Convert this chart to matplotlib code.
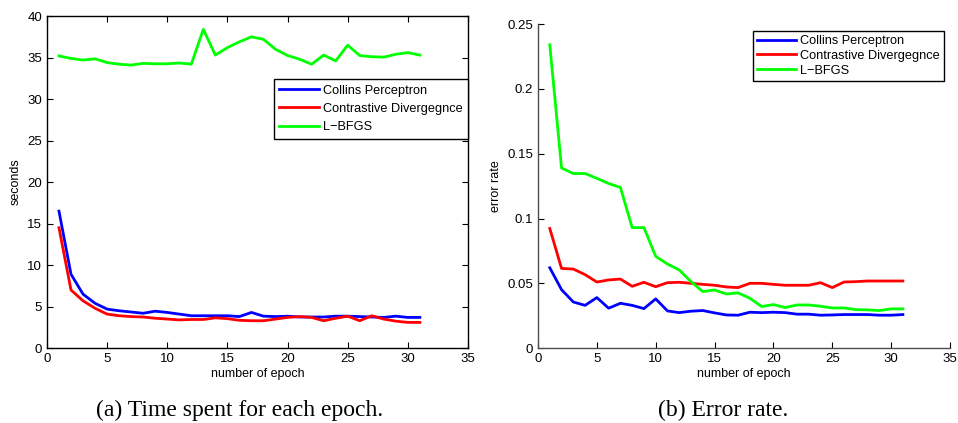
"""
Training time and error rate per epoch for three CRF training methods.
"""
import matplotlib
matplotlib.use("Agg")
import matplotlib.pyplot as plt
from matplotlib.ticker import FuncFormatter

plt.rcParams["font.family"] = ["Liberation Sans", "DejaVu Sans"]

epochs = list(range(1, 32))
labels = ["Collins Perceptron", "Contrastive Divergegnce", "L\u2212BFGS"]
colors = ["#0000ff", "#ff0000", "#00ff00"]

# (a) seconds per epoch
time_collins = [16.5, 8.9, 6.5, 5.4, 4.7, 4.5, 4.35, 4.2, 4.45, 4.3,
                4.1, 3.9, 3.9, 3.9, 3.9, 3.8, 4.3, 3.85, 3.8, 3.85,
                3.75, 3.75, 3.75, 3.85, 3.85, 3.8, 3.75, 3.7, 3.85, 3.7, 3.7]
time_cd = [14.5, 7.0, 5.7, 4.8, 4.1, 3.9, 3.8, 3.75, 3.6, 3.5,
           3.4, 3.45, 3.45, 3.65, 3.55, 3.35, 3.3, 3.3, 3.5, 3.7,
           3.8, 3.7, 3.3, 3.6, 3.85, 3.3, 3.9, 3.5, 3.25, 3.1, 3.1]
time_lbfgs = [35.2, 34.9, 34.7, 34.85, 34.4, 34.2, 34.1, 34.3, 34.25, 34.25,
              34.35, 34.2, 38.4, 35.3, 36.2, 36.9, 37.5, 37.2, 36.0, 35.25,
              34.8, 34.2, 35.3, 34.6, 36.5, 35.25, 35.1, 35.05, 35.4, 35.6, 35.3]

# (b) error rate per epoch
err_collins = [0.062, 0.0451, 0.0356, 0.033, 0.039, 0.0308, 0.0346, 0.033, 0.0305, 0.038,
               0.0287, 0.0274, 0.0285, 0.029, 0.0272, 0.0256, 0.0254, 0.0277, 0.0274, 0.0277,
               0.0274, 0.0262, 0.0262, 0.0254, 0.0256, 0.0259, 0.0259, 0.0259, 0.0254, 0.0254, 0.0259]
err_cd = [0.0923, 0.0615, 0.061, 0.0567, 0.051, 0.0526, 0.0533, 0.0477, 0.0508, 0.0474,
          0.0505, 0.0508, 0.05, 0.0492, 0.0485, 0.0472, 0.0467, 0.05, 0.05, 0.0492,
          0.0485, 0.0485, 0.0485, 0.0505, 0.0467, 0.051, 0.0513, 0.0518, 0.0518, 0.0518, 0.0518]
err_lbfgs = [0.234, 0.139, 0.1347, 0.1347, 0.131, 0.127, 0.124, 0.093, 0.093, 0.0708,
             0.0649, 0.0603, 0.0513, 0.0436, 0.0449, 0.0418, 0.0426, 0.0385, 0.0321, 0.0336,
             0.0313, 0.0333, 0.0333, 0.0323, 0.031, 0.031, 0.0297, 0.0295, 0.029, 0.0303, 0.0303]

fig = plt.figure(figsize=(9.58, 4.23), dpi=100)
ax1 = fig.add_axes([0.049, 0.177, 0.4395, 0.785])
ax2 = fig.add_axes([0.5616, 0.177, 0.43, 0.766])

tick_fs = 9.5
label_fs = 9
legend_fs = 9.2


def add_legend(ax, anchor, spacing, pad):
    leg = ax.legend(loc="upper right", bbox_to_anchor=anchor, fontsize=legend_fs,
                    fancybox=False, framealpha=1, edgecolor="black", handlelength=3.1,
                    borderaxespad=0, borderpad=pad, labelspacing=spacing, handletextpad=0.3)
    leg.get_frame().set_linewidth(1.0)
    return leg


for ys, lab, c in zip([time_collins, time_cd, time_lbfgs], labels, colors):
    ax1.plot(epochs, ys, color=c, lw=2, label=lab)
ax1.set_xlim(0, 35)
ax1.set_ylim(0, 40)
ax1.set_xticks(range(0, 36, 5))
ax1.set_yticks(range(0, 41, 5))
ax1.tick_params(direction="in", top=True, right=True, labelsize=tick_fs, length=4, width=0.8)
for s in ax1.spines.values():
    s.set_linewidth(1.0)
ax1.set_xlabel("number of epoch", fontsize=label_fs, labelpad=2)
ax1.set_ylabel("seconds", fontsize=label_fs, labelpad=4)
add_legend(ax1, (1.0, 0.81), 0.5, 0.42)

for ys, lab, c in zip([err_collins, err_cd, err_lbfgs], labels, colors):
    ax2.plot(epochs, ys, color=c, lw=2, label=lab)
ax2.set_xlim(0, 35)
ax2.set_ylim(0, 0.25)
ax2.set_xticks(range(0, 36, 5))
ax2.set_yticks([0, 0.05, 0.1, 0.15, 0.2, 0.25])
ax2.yaxis.set_major_formatter(FuncFormatter(lambda v, p: f"{v:g}"))
ax2.spines["top"].set_visible(False)
ax2.spines["right"].set_visible(False)
for s in ("left", "bottom"):
    ax2.spines[s].set_color("0.3")
    ax2.spines[s].set_linewidth(1.0)
ax2.tick_params(direction="in", labelsize=tick_fs, length=4, width=0.8)
ax2.set_xlabel("number of epoch", fontsize=label_fs, labelpad=2)
ax2.set_ylabel("error rate", fontsize=label_fs, labelpad=4)
add_legend(ax2, (0.985, 0.978), 0.22, 0.3)

cap_font = ["Liberation Serif", "DejaVu Serif"]
fig.text(240 / 958, 1 - 410 / 423, "(a) Time spent for each epoch.", ha="center", va="center",
         fontsize=17, family=cap_font)
fig.text(723 / 958, 1 - 410 / 423, "(b) Error rate.", ha="center", va="center",
         fontsize=17, family=cap_font)

fig.savefig("out.png", dpi=100)
